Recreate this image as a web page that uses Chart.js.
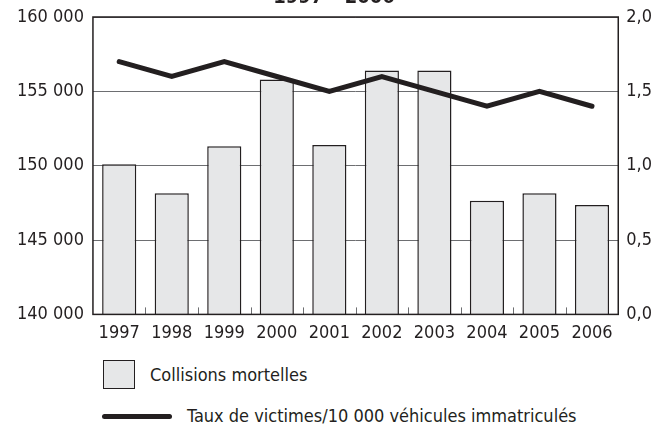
<!DOCTYPE html>
<html>
<head>
<meta charset="utf-8">
<script src="https://cdn.jsdelivr.net/npm/chart.js@4"></script>
<style>
  html, body { margin:0; padding:0; background:#fff; }
  body { width:665px; height:430px; position:relative; overflow:hidden;
         font-family:"Liberation Sans Narrow","DejaVu Sans Condensed",sans-serif; color:#231f20; }
  #wrap { position:absolute; left:0; top:-18px; width:665px; height:362px; }
  .lg { position:absolute; font-size:18px; line-height:20px; white-space:nowrap; }
  .lg .box { position:absolute; width:30px; height:27px; border:1.5px solid #231f20; background:#e6e7e8; }
  .lg .ln { position:absolute; width:70px; height:5px; border-radius:3px; background:#231f20; }
</style>
</head>
<body>
<div id="wrap"><canvas id="c"></canvas></div>
<div id="legend"></div>
<script>
const years = ['1997','1998','1999','2000','2001','2002','2003','2004','2005','2006'];
const collisions = [150100, 148150, 151300, 155800, 151400, 156400, 156400, 147650, 148150, 147350];
const rate = [1.7, 1.6, 1.7, 1.6, 1.5, 1.6, 1.5, 1.4, 1.5, 1.4];
const titleText = '1997 – 2006';
const barLabel = 'Collisions mortelles';
const lineLabel = 'Taux de victimes/10 000 véhicules immatriculés';

const ink = '#231f20';
const fontFam = '"Liberation Sans Narrow","DejaVu Sans Condensed",sans-serif';

function fmtThousands(v){ return String(v).replace(/\B(?=(\d{3})+(?!\d))/g, ' '); }
function fmtComma(v){ return v.toFixed(1).replace('.', ','); }

// frame round the plot area
const framePlugin = {
  id:'frame',
  afterDatasetsDraw(chart){
    const a = chart.chartArea, ctx = chart.ctx;
    ctx.save();
    ctx.strokeStyle = ink; ctx.lineWidth = 1.5;
    ctx.strokeRect(a.left, a.top, a.right - a.left, a.bottom - a.top);
    ctx.restore();
  }
};

// small inward ticks between the bars
const tickPlugin = {
  id:'inticks',
  afterDatasetsDraw(chart){
    const x = chart.scales.x, a = chart.chartArea, ctx = chart.ctx;
    ctx.save();
    ctx.strokeStyle = '#6d6e71'; ctx.lineWidth = 1;
    for(let i=0;i<years.length-1;i++){
      const px = Math.round((x.getPixelForValue(i) + x.getPixelForValue(i+1))/2) + 0.5;
      ctx.beginPath(); ctx.moveTo(px, a.bottom); ctx.lineTo(px, a.bottom - 7); ctx.stroke();
    }
    ctx.restore();
  }
};

new Chart(document.getElementById('c'), {
  data:{
    labels: years,
    datasets:[
      { type:'line', label: lineLabel, data: rate, yAxisID:'y2', order:0,
        borderColor: ink, borderWidth:5, pointRadius:0, tension:0, borderCapStyle:'round', borderJoinStyle:'miter' },
      { type:'bar', label: barLabel, data: collisions, yAxisID:'y', order:1,
        backgroundColor:'#e6e7e8', borderColor: ink, borderWidth:1.5, barPercentage:0.65, categoryPercentage:1 }
    ]
  },
  options:{
    responsive:true, maintainAspectRatio:false, animation:false,
    layout:{ padding:{ left:8, right:5, top:0, bottom:0 } },
    plugins:{
      legend:{ display:false }, tooltip:{ enabled:false },
      title:{ display:true, text: titleText, color: ink,
        font:{ family: fontFam, size:20, weight:'bold' }, padding:{ top:4, bottom:7 } }
    },
    scales:{
      x:{
        grid:{ display:false }, border:{ display:false },
        ticks:{ color: ink, font:{ family: fontFam, size:18 }, padding:0, maxRotation:0 }
      },
      y:{
        position:'left', min:140000, max:160000,
        ticks:{ stepSize:5000, color: ink, font:{ family: fontFam, size:18 }, padding:9, callback: v => fmtThousands(v) },
        grid:{ color:'#6d6e71', lineWidth:1, drawTicks:false }, border:{ display:false }
      },
      y2:{
        position:'right', min:0, max:2,
        ticks:{ stepSize:0.5, color: ink, font:{ family: fontFam, size:18 }, padding:8, callback: v => fmtComma(v) },
        grid:{ display:false, drawTicks:false }, border:{ display:false }
      }
    }
  },
  plugins:[tickPlugin, framePlugin]
});

// legend below the chart
const lg = document.getElementById('legend');
lg.innerHTML =
  '<div class="lg" style="left:103px;top:360px;"><span class="box" style="left:0;top:0;"></span>' +
  '<span style="position:absolute;left:47px;top:5px;"></span></div>' +
  '<div class="lg" style="left:102px;top:406px;"><span class="ln" style="left:0;top:8px;"></span>' +
  '<span style="position:absolute;left:85px;top:0;"></span></div>';
const spans = lg.querySelectorAll('.lg > span:last-child');
spans[0].textContent = barLabel;
spans[1].textContent = lineLabel;
</script>
</body>
</html>
